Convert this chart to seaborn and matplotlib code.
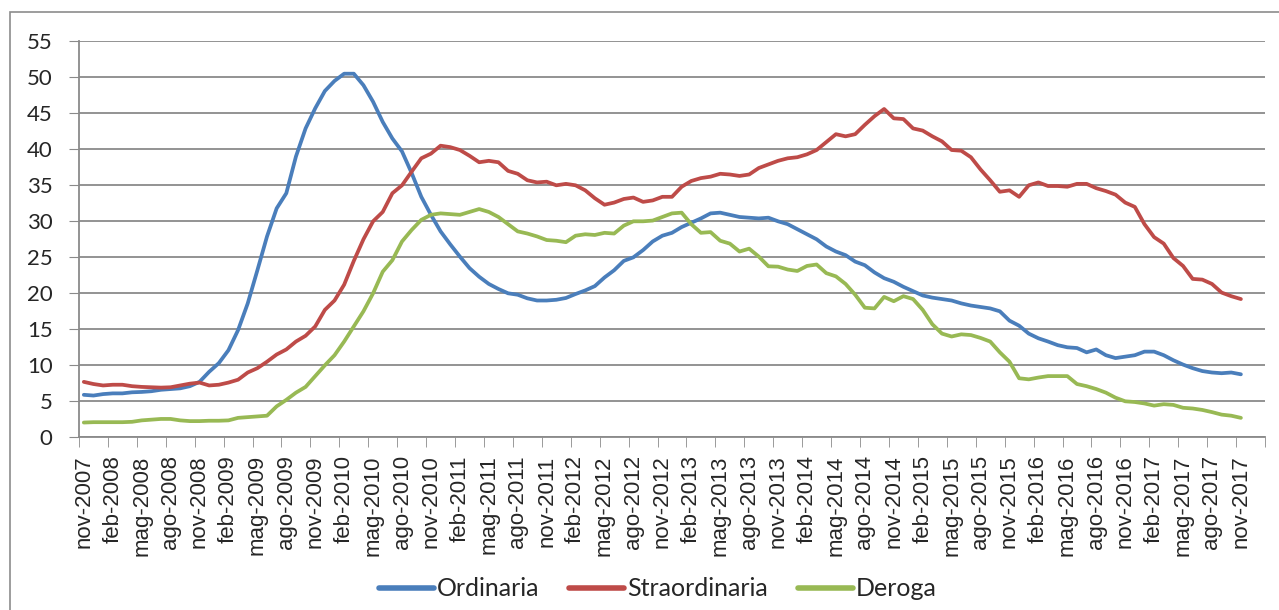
import matplotlib
matplotlib.use("Agg")
import matplotlib.pyplot as plt
from matplotlib.patches import Rectangle
import seaborn as sns
import pandas as pd

# monthly values, nov-2007 .. nov-2017
ordinaria = [
    5.9, 5.8, 6.0, 6.1, 6.1, 6.25, 6.3, 6.4, 6.6, 6.7, 6.8, 7.1, 7.7, 9.1, 10.3, 12.1,
    14.9, 18.6, 23.2, 27.9, 31.8, 33.9, 39.0, 42.9, 45.7, 48.1, 49.5, 50.5, 50.5, 48.9,
    46.6, 43.8, 41.5, 39.7, 36.7, 33.4, 30.9, 28.6, 26.8, 25.1, 23.5, 22.3, 21.3, 20.6,
    20.0, 19.8, 19.3, 19.0, 19.0, 19.1, 19.35, 19.9, 20.4, 21.0, 22.2, 23.2, 24.5, 25.0,
    26.0, 27.2, 28.0, 28.4, 29.2, 29.8, 30.4, 31.1, 31.2, 30.9, 30.6, 30.5, 30.4, 30.5,
    30.0, 29.6, 28.9, 28.2, 27.5, 26.5, 25.8, 25.3, 24.4, 23.9, 22.9, 22.1, 21.6, 20.9,
    20.3, 19.7, 19.4, 19.2, 19.0, 18.6, 18.3, 18.1, 17.9, 17.5, 16.2, 15.5, 14.4, 13.75,
    13.3, 12.8, 12.5, 12.4, 11.8, 12.2, 11.4, 11.0, 11.2, 11.4, 11.9, 11.9, 11.4, 10.7,
    10.1, 9.6, 9.2, 9.0, 8.9, 9.0, 8.75,
]
straordinaria = [
    7.7, 7.4, 7.2, 7.3, 7.3, 7.1, 7.0, 6.95, 6.9, 6.95, 7.2, 7.45, 7.6, 7.2, 7.3, 7.6,
    8.0, 9.0, 9.6, 10.5, 11.5, 12.2, 13.3, 14.1, 15.4, 17.7, 19.0, 21.2, 24.5, 27.5,
    30.0, 31.3, 33.9, 35.0, 36.9, 38.75, 39.4, 40.5, 40.3, 39.9, 39.1, 38.2, 38.4, 38.2,
    37.0, 36.6, 35.7, 35.4, 35.5, 35.0, 35.2, 35.0, 34.3, 33.2, 32.3, 32.6, 33.1, 33.3,
    32.7, 32.9, 33.4, 33.4, 34.8, 35.6, 36.0, 36.2, 36.6, 36.5, 36.3, 36.5, 37.4, 37.9,
    38.4, 38.75, 38.9, 39.3, 39.9, 41.0, 42.1, 41.8, 42.1, 43.4, 44.6, 45.6, 44.3, 44.2,
    42.9, 42.6, 41.8, 41.1, 39.9, 39.8, 38.9, 37.2, 35.7, 34.1, 34.3, 33.4, 35.0, 35.4,
    34.9, 34.9, 34.8, 35.2, 35.2, 34.6, 34.2, 33.7, 32.6, 32.0, 29.6, 27.8, 26.9, 24.9,
    23.8, 22.0, 21.9, 21.3, 20.1, 19.6, 19.2,
]
deroga = [
    2.05, 2.1, 2.1, 2.1, 2.1, 2.15, 2.35, 2.45, 2.55, 2.55, 2.35, 2.25, 2.25, 2.3, 2.3, 2.35,
    2.7, 2.8, 2.9, 3.0, 4.3, 5.2, 6.2, 7.0, 8.5, 10.0, 11.4, 13.3, 15.4, 17.5,
    20.0, 23.0, 24.6, 27.2, 28.8, 30.2, 30.9, 31.1, 31.0, 30.9, 31.3, 31.7, 31.3, 30.6,
    29.6, 28.6, 28.3, 27.9, 27.4, 27.3, 27.1, 28.0, 28.2, 28.1, 28.4, 28.3, 29.4, 30.0,
    30.0, 30.1, 30.6, 31.1, 31.2, 29.6, 28.4, 28.5, 27.3, 26.9, 25.8, 26.2, 25.1, 23.75,
    23.7, 23.3, 23.1, 23.8, 24.0, 22.8, 22.35, 21.3, 19.8, 18.0, 17.9, 19.5, 18.9, 19.6,
    19.2, 17.7, 15.7, 14.4, 14.0, 14.3, 14.2, 13.8, 13.3, 11.8, 10.5, 8.2, 8.05, 8.3,
    8.5, 8.5, 8.5, 7.4, 7.1, 6.7, 6.2, 5.5, 5.0, 4.9, 4.7, 4.4, 4.6, 4.5,
    4.1, 4.0, 3.8, 3.5, 3.15, 3.0, 2.7,
]
tick_labels = [
    "nov-2007", "feb-2008", "mag-2008", "ago-2008", "nov-2008", "feb-2009", "mag-2009",
    "ago-2009", "nov-2009", "feb-2010", "mag-2010", "ago-2010", "nov-2010", "feb-2011",
    "mag-2011", "ago-2011", "nov-2011", "feb-2012", "mag-2012", "ago-2012", "nov-2012",
    "feb-2013", "mag-2013", "ago-2013", "nov-2013", "feb-2014", "mag-2014", "ago-2014",
    "nov-2014", "feb-2015", "mag-2015", "ago-2015", "nov-2015", "feb-2016", "mag-2016",
    "ago-2016", "nov-2016", "feb-2017", "mag-2017", "ago-2017", "nov-2017",
]
series_names = ["Ordinaria", "Straordinaria", "Deroga"]
colors = ["#4A7EBB", "#BE4B48", "#98B954"]

n = len(ordinaria)
df = pd.DataFrame({
    "mese": list(range(n)) * 3,
    "valore": ordinaria + straordinaria + deroga,
    "serie": [s for s in series_names for _ in range(n)],
})

sns.set_style("white")
plt.rcParams["font.family"] = ["Lato", "DejaVu Sans"]

fig = plt.figure(figsize=(12.79, 6.10), dpi=100)
ax = fig.add_axes([79 / 1279, 1 - 437.3 / 610, (1265 - 79) / 1279, (437.3 - 41.3) / 610])

# outer chart frame (cut off at right and bottom)
fig.patches.append(Rectangle((10 / 1279, -0.05), 1.2, 1 - 11.5 / 610 + 0.05,
                             transform=fig.transFigure, fill=False,
                             edgecolor="#8c8c8c", linewidth=1.2))

sns.lineplot(data=df, x="mese", y="valore", hue="serie", hue_order=series_names,
             palette=colors, linewidth=2.7, ax=ax)

ax.set_xlim(-0.45, n - 0.45)
ax.set_ylim(0, 55)
ax.set_yticks(range(0, 56, 5))
ax.yaxis.grid(True, color="#8a8a8a", linewidth=1.3)
ax.set_axisbelow(True)
ax.tick_params(axis="y", labelsize=16, length=7, color="#8a8a8a", left=True, pad=12)

ax.set_xticks(list(range(0, n, 3)))
ax.set_xticks([x - 0.5 for x in range(0, n + 3, 3)], minor=True)
ax.tick_params(axis="x", which="major", length=0, pad=13)
ax.tick_params(axis="x", which="minor", length=7, color="#8a8a8a", bottom=True)
ax.set_xticklabels(tick_labels, rotation=90)
for lab in ax.get_xticklabels():
    lab.set_fontfamily("Liberation Sans")
    lab.set_fontsize(16)

for side in ["top", "right"]:
    ax.spines[side].set_visible(False)
for side in ["left", "bottom"]:
    ax.spines[side].set_color("#8a8a8a")
    ax.spines[side].set_linewidth(1.3)

ax.set_xlabel("")
ax.set_ylabel("")
ax.legend(loc="center", bbox_to_anchor=(0.488, -0.383), ncol=3, frameon=False,
          fontsize=18, handlelength=2.2, handletextpad=0.12, columnspacing=1.2)
for line in ax.get_legend().get_lines():
    line.set_linewidth(4)

fig.savefig("out.png", dpi=100)
